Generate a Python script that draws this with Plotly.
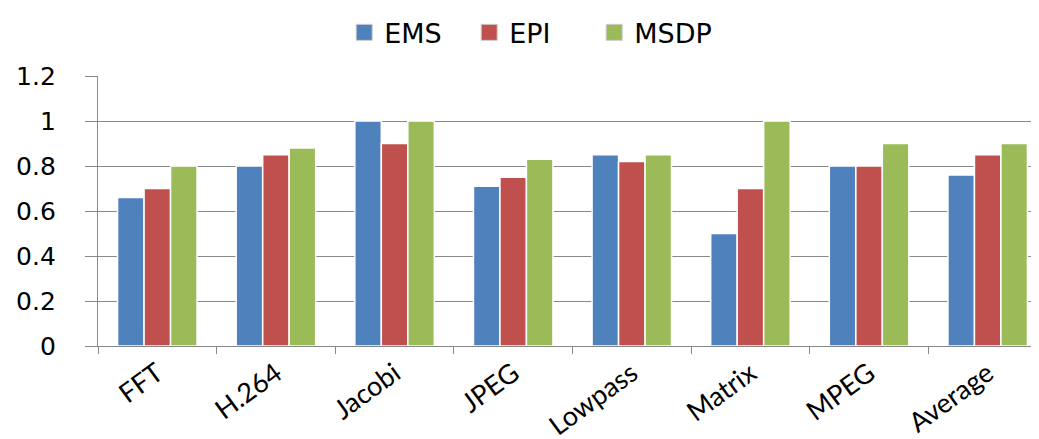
import plotly.graph_objects as go

categories = ["FFT", "H.264", "Jacobi", "JPEG", "Lowpass", "Matrix", "MPEG", "Average"]
ems = [0.66, 0.80, 1.00, 0.71, 0.85, 0.50, 0.80, 0.76]
epi = [0.70, 0.85, 0.90, 0.75, 0.82, 0.70, 0.80, 0.85]
msdp = [0.80, 0.88, 1.00, 0.83, 0.85, 1.00, 0.90, 0.90]
y_ticks = [0, 0.2, 0.4, 0.6, 0.8, 1, 1.2]
y_labels = ["0", "0.2", "0.4", "0.6", "0.8", "1", "1.2"]

series = [("EMS", ems, "#4F81BD"), ("EPI", epi, "#C0504D"), ("MSDP", msdp, "#9BBB59")]

fig = go.Figure()
for name, vals, col in series:
    fig.add_trace(go.Bar(
        x=categories, y=vals, name=name, showlegend=False,
        marker=dict(color=col, line=dict(color="white", width=1.5)),
    ))
# legend entries with larger square swatches
for name, vals, col in series:
    fig.add_trace(go.Scatter(
        x=[None], y=[None], mode="markers", name=name, showlegend=True,
        marker=dict(symbol="square", size=22, color=col, line=dict(color="#cccccc", width=1)),
    ))

fig.update_layout(
    width=1039, height=439,
    margin=dict(l=90, r=0, t=61, b=101),
    paper_bgcolor="white", plot_bgcolor="white",
    barmode="group", bargap=0.33, bargroupgap=0,
    showlegend=True,
    legend=dict(orientation="h", x=0.457, xanchor="center", y=1.16, yanchor="middle",
                font=dict(family="DejaVu Sans", size=27, color="#000"),
                itemwidth=30, traceorder="normal", tracegroupgap=0,
                entrywidth=80, entrywidthmode="pixels"),
    font=dict(family="DejaVu Sans", color="#000"),
)
fig.update_xaxes(
    type="category", range=[-0.5, 7.5], tickson="boundaries", automargin=False,
    ticks="outside", ticklen=7, tickcolor="#888", tickwidth=1.3,
    showline=True, linecolor="#888", linewidth=1.3,
    showgrid=False, tickangle=-36,
    tickfont=dict(family="Lato", size=27, color="#000"),
)
fig.update_yaxes(
    range=[0, 1.2], tickvals=y_ticks, ticktext=y_labels, automargin=False,
    ticks="outside", ticklen=12, tickcolor="#888", tickwidth=1.3,
    showline=True, linecolor="#888", linewidth=1.3,
    showgrid=True, gridcolor="#888", gridwidth=1.3, zeroline=False,
    ticklabelstandoff=24,
    tickfont=dict(family="DejaVu Sans", size=25, color="#000"),
)

fig.write_html("out.html")
